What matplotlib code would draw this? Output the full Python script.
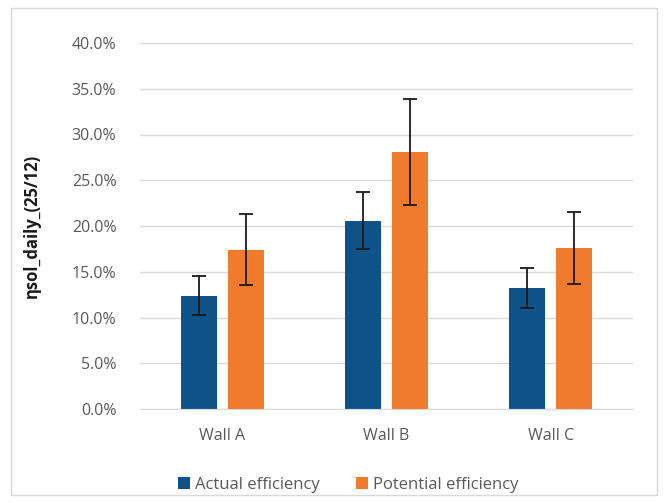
import matplotlib.pyplot as plt
import numpy as np
from matplotlib.patches import Rectangle
from matplotlib.ticker import FuncFormatter

walls = ['Wall A', 'Wall B', 'Wall C']
actual = [12.4, 20.6, 13.2]
actual_err = [2.1, 3.1, 2.2]
potential = [17.4, 28.1, 17.6]
potential_err = [3.9, 5.8, 3.9]

plt.rcParams['font.family'] = ['Open Sans', 'DejaVu Sans']

fig = plt.figure(figsize=(6.67, 5.03), dpi=100)
fig.patches.append(Rectangle((11 / 667, 8 / 503), 646 / 667, 487 / 503,
                             transform=fig.transFigure, fill=False,
                             edgecolor='#d9d9d9', linewidth=1))
ax = fig.add_axes([140 / 667, 1 - 409 / 503, 493 / 667, 366 / 503])

index = np.arange(len(walls))
bar_width = 0.22
offset = 0.143
ekw = dict(ecolor='#1a1a1a', elinewidth=1.3, capsize=5, capthick=1.3)

ax.bar(index - offset, actual, bar_width, yerr=actual_err, color='#0F5288',
       label='Actual efficiency', zorder=2, error_kw=ekw)
ax.bar(index + offset, potential, bar_width, yerr=potential_err, color='#F07B2C',
       label='Potential efficiency', zorder=2, error_kw=ekw)

ax.set_xlim(-0.5, 2.5)
ax.set_ylim(0, 40)
ax.set_yticks(np.arange(0, 41, 5))
ax.yaxis.set_major_formatter(FuncFormatter(lambda v, p: f'{v:.1f}%'))
ax.set_xticks(index)
ax.set_xticklabels(walls)
ax.grid(axis='y', color='#d9d9d9', linewidth=1, zorder=0)
for s in ['top', 'right', 'left']:
    ax.spines[s].set_visible(False)
ax.spines['bottom'].set_color('#d9d9d9')
ax.tick_params(axis='both', length=0, labelsize=11.5, colors='#595959')
ax.tick_params(axis='y', pad=17)
ax.tick_params(axis='x', pad=14)
ax.set_ylabel('ηsol_daily_(25/12)', fontsize=12, fontweight='bold', color='#1a1a1a', labelpad=22)

fig.legend(loc='center', bbox_to_anchor=(348 / 667, 1 - 485 / 503), ncol=2, frameon=False,
           fontsize=12, handlelength=0.7, handleheight=0.7, handletextpad=0.3,
           columnspacing=2.2, labelcolor='#595959')

plt.savefig('out.png', dpi=100)
